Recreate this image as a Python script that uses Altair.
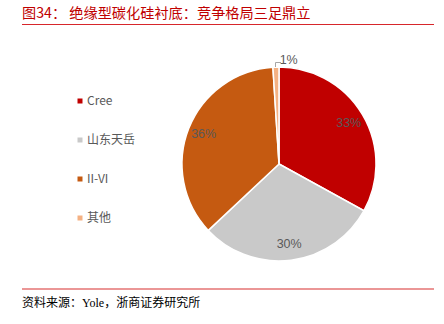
import altair as alt
import pandas as pd

names = ["Cree", "山东天岳", "II-VI", "其他"]
values = [33, 30, 36, 1]
labels = ["33%", "30%", "36%", "1%"]
colors = ["#C00000", "#C9C9C9", "#C55A11", "#F4B183"]

title_text = "图34： 绝缘型碳化硅衬底：竞争格局三足鼎立"
source_text = "资料来源：Yole，浙商证券研究所"

df = pd.DataFrame({"name": names, "value": values, "label": labels, "idx": list(range(len(names)))})

CX, CY, R = 279, 164, 97

base = alt.Chart(df)

arc = base.mark_arc(outerRadius=R, stroke="white", strokeWidth=1.5).encode(
    theta=alt.Theta("value:Q", stack=True),
    color=alt.Color(
        "name:N",
        scale=alt.Scale(domain=names, range=colors),
        sort=names,
        legend=alt.Legend(
            title=None,
            orient="none",
            legendX=74,
            legendY=95,
            symbolType="square",
            symbolSize=25,
            symbolStrokeWidth=0,
            labelFont="Noto Sans CJK SC",
            labelFontSize=12,
            labelColor="#595959",
            rowPadding=27,
            labelOffset=1,
        ),
    ),
    order=alt.Order("idx:Q"),
    x=alt.value(CX),
    y=alt.value(CY),
)

inner = base.mark_text(radius=81, font="Liberation Sans", fontSize=12.5, color="#595959").encode(
    theta=alt.Theta("value:Q", stack=True),
    order=alt.Order("idx:Q"),
    text=alt.condition("datum.value > 5", "label:N", alt.value("")),
    x=alt.value(CX),
    y=alt.value(CY),
)

outer = base.mark_text(radius=106, dx=13, dy=2, font="Liberation Sans", fontSize=12.5, color="#595959").encode(
    theta=alt.Theta("value:Q", stack=True),
    order=alt.Order("idx:Q"),
    text=alt.condition("datum.value <= 5", "label:N", alt.value("")),
    x=alt.value(CX),
    y=alt.value(CY),
)

lead1 = alt.Chart(pd.DataFrame({"a": [0]})).mark_rule(color="#A6A6A6", strokeWidth=1).encode(
    x=alt.value(275.5), y=alt.value(62.5), y2=alt.value(67)
)
lead2 = alt.Chart(pd.DataFrame({"a": [0]})).mark_rule(color="#A6A6A6", strokeWidth=1).encode(
    x=alt.value(275.5), x2=alt.value(281), y=alt.value(62.5)
)

title = alt.Chart(pd.DataFrame({"t": [title_text]})).mark_text(
    align="left", baseline="alphabetic", font="Noto Sans CJK SC", fontSize=14.2, color="#C00000"
).encode(text="t:N", x=alt.value(22), y=alt.value(18))

top_rule = alt.Chart(pd.DataFrame({"a": [0]})).mark_rule(color="#D7262B", strokeWidth=1).encode(
    x=alt.value(22), x2=alt.value(434), y=alt.value(24.5)
)
bottom_rule = alt.Chart(pd.DataFrame({"a": [0]})).mark_rule(color="#E57373", strokeWidth=1.5).encode(
    x=alt.value(22), x2=alt.value(434), y=alt.value(289)
)

source = alt.Chart(pd.DataFrame({"t": [source_text]})).mark_text(
    align="left", baseline="alphabetic", font="Liberation Serif, Noto Sans CJK SC", fontSize=12, color="#000000"
).encode(text="t:N", x=alt.value(22), y=alt.value(307))

chart = alt.layer(arc, inner, outer, lead1, lead2, title, top_rule, bottom_rule, source).properties(
    width=444, height=324, autosize=alt.AutoSizeParams(type="none"), padding=0, background="white"
).configure_view(stroke=None)

chart.save("out.html", embed_options={"renderer": "svg", "actions": False})
